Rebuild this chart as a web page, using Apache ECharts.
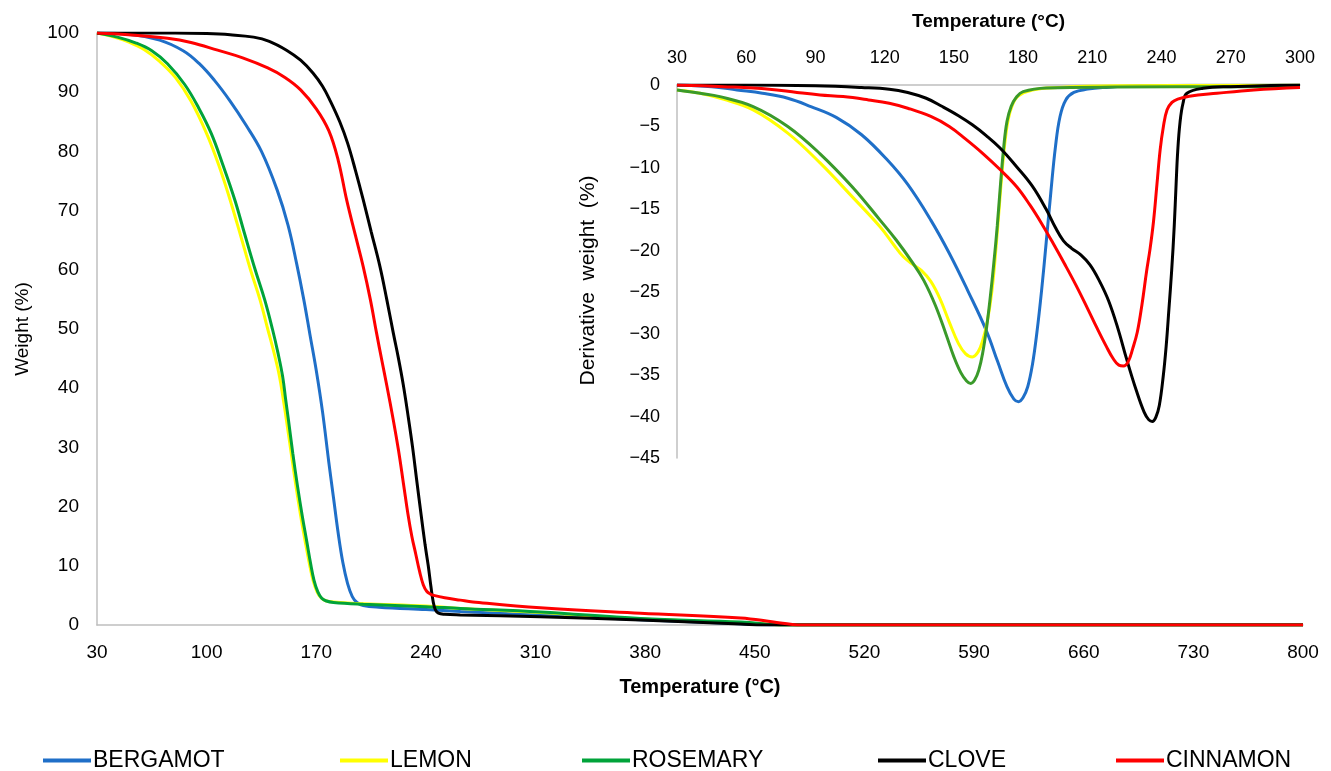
<!DOCTYPE html>
<html>
<head>
<meta charset="utf-8">
<script src="https://cdn.jsdelivr.net/npm/echarts@6/dist/echarts.min.js"></script>
<style>
html,body{margin:0;padding:0;background:#fff;}
#chart{width:1331px;height:771px;}
</style>
</head>
<body>
<div id="chart"></div>
<script>
// ---------- DATA ----------
const seriesNames = ["BERGAMOT", "LEMON", "ROSEMARY", "CLOVE", "CINNAMON"];
const seriesColors = ["#1f6fc8", "#ffff00", "#00a33a", "#000000", "#ff0000"];
const insetColors = ["#1f6fc8", "#ffff00", "#3a9a2a", "#000000", "#ff0000"];

// Main TGA: [temperature °C, weight %]
const tgaBergamot = [[30,100],[50,99.8],[70,98.8],[85,97],[95,94.9],[105,92],[115,88.5],[125,84.5],[135,80],[145,73.5],[152,67.5],[157.5,61],[162,55],[166,49],[170,43],[174,36],[178,27.5],[181,21.5],[184,15.5],[187,10.5],[190,7],[193,4.8],[196,3.8],[200,3.3],[210,3.0],[240,2.6],[262,2.3],[313,1.7],[377,0.9],[441,0.2],[460,0],[800,0]];
const tgaLemon = [[30,100],[40,99.4],[50,98.5],[60,97.2],[70,95.2],[80,92.5],[90,88.5],[100,83],[108,77.5],[115,71.8],[122,65.5],[128,60],[134,55],[139,50],[143,46],[146.5,42],[149,38],[151,34.5],[154,29],[157,23.5],[160,18.5],[163,14],[165.5,10.5],[168,7.5],[170.5,5.6],[173,4.6],[176,4.1],[181,3.9],[200,3.6],[240,3.2],[262,2.8],[313,2.1],[377,1.0],[441,0.4],[470,0],[800,0]];
const tgaRosemary = [[30,100],[43,99.3],[55,98.3],[65,97],[75,94.8],[86,91.3],[95,87.3],[103,83],[110,78],[118,71.8],[124,66.3],[131,60],[137,55],[142,50],[145.5,46],[148.5,42],[150.5,38],[152.3,34.5],[155,29],[158,23.5],[161,18.5],[164,14],[166.3,10.5],[168.6,7.5],[171,5.6],[173.5,4.5],[176,4.1],[181,3.8],[200,3.5],[240,3.1],[262,2.8],[313,2.2],[377,1.1],[441,0.5],[470,0],[800,0]];
const tgaClove = [[30,100],[80,100],[100,99.9],[115,99.7],[130,99.3],[140,98.6],[151,97.1],[160,95.4],[168,93.2],[174,91],[179,88.5],[185,85],[190,81.4],[195,76.8],[200,71.8],[205,66.5],[210.7,60.5],[215,55],[219.2,49.3],[222.5,45],[225.6,40.5],[228.8,35],[231.5,30],[234.1,24.5],[237,18.5],[239.5,13.5],[241.5,10],[243.2,6.5],[244.6,4],[246,2.6],[248,2.0],[252,1.8],[262,1.7],[313,1.4],[377,0.85],[441,0.17],[455,0],[800,0]];
const tgaCinnamon = [[30,100],[50,99.7],[75,99.1],[90,98.4],[107,97.1],[123,95.8],[139,94.1],[150,92.5],[160,90.4],[170,87.2],[178,83.5],[184,78.5],[189.4,71.8],[195,65.8],[200,60.5],[204.5,55],[208.5,49.3],[212,44.5],[215,40.5],[219.2,34.6],[222.5,29.5],[225.6,24],[228.5,18.8],[231,15],[233.5,12],[236,9],[238.3,6.8],[240.5,5.7],[243,5.2],[245,5.0],[252,4.6],[262,4.2],[270,3.9],[313,2.9],[377,2.0],[441,1.2],[462,0.5],[474,0.1],[480,0],[800,0]];

// Inset DTG: [temperature °C, derivative weight %]
const dtgBergamot = [[30,0],[45,-0.2],[56,-0.6],[67,-1.0],[78,-1.6],[88,-2.6],[99,-3.9],[110,-6.0],[121,-9.0],[130,-12],[140,-16.3],[148,-20.3],[156,-24.8],[164,-29.6],[169,-33.4],[173,-36.4],[176,-37.9],[178,-38.2],[180,-37.7],[182,-36.4],[184,-33.8],[186,-29.8],[188,-24.8],[190,-19],[192,-13],[194,-7.5],[196,-3.8],[198.5,-1.8],[202,-0.9],[208,-0.5],[215,-0.3],[230,-0.1],[300,0]];
const dtgLemon = [[30,-0.6],[40,-1.0],[50,-1.7],[63,-3.0],[78,-5.8],[92,-9.4],[106,-13.5],[118,-17.1],[124,-19.3],[128,-20.7],[132,-21.6],[136,-22.4],[140,-23.7],[144,-25.8],[148,-28.6],[152,-31.2],[155,-32.4],[158,-32.8],[160.5,-32.2],[162.5,-30.8],[164.5,-28.5],[166.5,-24.8],[168.3,-19.5],[170,-13.5],[171.7,-8],[173.5,-4.2],[175.5,-2.3],[178,-1.3],[184,-0.6],[195,-0.3],[220,-0.1],[300,0]];
const dtgRosemary = [[30,-0.6],[40,-1.0],[48.6,-1.4],[63,-2.6],[78,-5.0],[92,-8.3],[106,-12.3],[118,-16.3],[125,-18.7],[132,-21.4],[137,-23.6],[142,-26.6],[146.5,-30],[150,-32.8],[153,-34.7],[155.5,-35.7],[157.3,-36.0],[159,-35.6],[160.8,-34.4],[162.5,-32.3],[164.2,-29.2],[165.8,-25.5],[167.3,-21.5],[168.8,-17],[170.2,-12],[171.6,-7.5],[173,-4.4],[174.8,-2.6],[177,-1.5],[180,-0.8],[190,-0.35],[220,-0.25],[300,-0.2]];
const dtgClove = [[30,0],[60,0],[90,-0.1],[110,-0.3],[122,-0.5],[130,-0.9],[138,-1.6],[145,-2.6],[152,-3.7],[158,-4.8],[164,-6.1],[170,-7.6],[177,-9.8],[184,-12.2],[190,-15],[194,-17.2],[197.5,-18.8],[201,-19.7],[205,-20.5],[209,-21.7],[213,-23.6],[217,-26],[221,-29.3],[225,-33.2],[229,-36.8],[232.5,-39.5],[234.5,-40.4],[236,-40.6],[237.5,-40.1],[239,-38.7],[240.7,-35.2],[242,-31.5],[243.2,-27],[244.4,-22.3],[245.5,-17],[246.3,-12],[247,-8],[248,-4.5],[249.3,-2.2],[251,-1.0],[258,-0.4],[270,-0.2],[300,0]];
const dtgCinnamon = [[30,0],[50,-0.2],[70,-0.5],[82,-0.9],[92,-1.2],[102,-1.4],[113,-1.8],[122,-2.2],[130,-2.8],[140,-3.8],[148,-5.0],[155,-6.5],[162.7,-8.3],[170,-10.2],[177.3,-12.3],[183,-14.5],[188,-16.7],[193,-19.1],[198,-21.6],[203,-24.2],[208,-27],[212,-29.3],[216,-31.5],[219,-33],[221.5,-33.8],[223.5,-33.9],[225.5,-33.4],[227.5,-31.8],[229.5,-29.8],[231.5,-26.5],[233.5,-22.5],[235,-19.8],[236.5,-16.5],[238,-12],[239.4,-7.8],[240.8,-5],[242.4,-3.0],[244.5,-2.1],[247,-1.7],[252,-1.35],[264,-1.0],[280,-0.6],[300,-0.3]];

const tgaData = [tgaBergamot, tgaLemon, tgaRosemary, tgaClove, tgaCinnamon];
const dtgData = [dtgBergamot, dtgLemon, dtgRosemary, dtgClove, dtgCinnamon];

// Axis titles
const mainXTitle = "Temperature (°C)";
const mainYTitle = "Weight (%)";
const insetXTitle = "Temperature (°C)";
const insetYTitle = "Derivative  weight  (%)";

// ---------- CHART ----------
const FONT = "Liberation Sans, Arial, sans-serif";
const chart = echarts.init(document.getElementById('chart'), null, {renderer: 'canvas'});

const axisLineGray = {show: true, lineStyle: {color: '#bfbfbf', width: 1.5}};

const series = [];
seriesNames.forEach((n, i) => {
  series.push({
    name: n, type: 'line', xAxisIndex: 0, yAxisIndex: 0,
    data: tgaData[i], showSymbol: false, symbol: 'none',
    smooth: 0.4,
    itemStyle: {color: seriesColors[i]},
    lineStyle: {color: seriesColors[i], width: 3},
    z: 2 + i
  });
});
seriesNames.forEach((n, i) => {
  series.push({
    name: n, type: 'line', xAxisIndex: 1, yAxisIndex: 1,
    data: dtgData[i], showSymbol: false, symbol: 'none',
    smooth: 0.4,
    itemStyle: {color: seriesColors[i]},
    lineStyle: {color: insetColors[i], width: 3},
    z: 2 + i
  });
});

const legendLefts = [38, 335, 577, 873, 1111];
const legends = seriesNames.map((n, i) => ({
  data: [n], left: legendLefts[i], top: 744, orient: 'horizontal',
  icon: 'rect', itemWidth: 48, itemHeight: 4, itemGap: 6,
  textStyle: {fontFamily: FONT, fontSize: 23, color: '#000', padding: [0,0,0,-3]},
  selectedMode: false
}));

const option = {
  backgroundColor: '#ffffff',
  animation: false,
  legend: legends,
  grid: [
    {left: 97, right: 28, top: 33, bottom: 146, containLabel: false, outerBoundsMode: 'none'},
    {left: 677, right: 31, top: 85, bottom: 313, containLabel: false, outerBoundsMode: 'none'}
  ],
  xAxis: [
    {
      gridIndex: 0, type: 'value', min: 30, max: 800, interval: 70,
      axisLine: axisLineGray, axisTick: {show: false}, splitLine: {show: false},
      axisLabel: {fontFamily: FONT, fontSize: 19, color: '#000', margin: 18},
      name: mainXTitle, nameLocation: 'middle', nameGap: 52,
      nameTextStyle: {fontFamily: FONT, fontSize: 20, fontWeight: 'bold', color: '#000'}
    },
    {
      gridIndex: 1, type: 'value', position: 'top', min: 30, max: 300, interval: 30,
      axisLine: axisLineGray, axisTick: {show: false}, splitLine: {show: false},
      axisLabel: {fontFamily: FONT, fontSize: 18, color: '#000', margin: 18},
      name: insetXTitle, nameLocation: 'middle', nameGap: 54,
      nameTextStyle: {fontFamily: FONT, fontSize: 19, fontWeight: 'bold', color: '#000'}
    }
  ],
  yAxis: [
    {
      gridIndex: 0, type: 'value', min: 0, max: 100, interval: 10,
      axisLine: axisLineGray, axisTick: {show: false}, splitLine: {show: false},
      axisLabel: {fontFamily: FONT, fontSize: 19, color: '#000', margin: 18},
      name: mainYTitle, nameLocation: 'middle', nameGap: 65, nameRotate: 90,
      nameTextStyle: {fontFamily: FONT, fontSize: 19, color: '#000'}
    },
    {
      gridIndex: 1, type: 'value', min: -45, max: 0, interval: 5,
      axisLine: axisLineGray, axisTick: {show: false}, splitLine: {show: false},
      axisLabel: {fontFamily: FONT, fontSize: 18, color: '#000', margin: 17,
        formatter: v => String(v).replace('-', '\u2212')},
      name: insetYTitle, nameLocation: 'middle', nameGap: 78, nameRotate: 90,
      nameTextStyle: {fontFamily: FONT, fontSize: 21, color: '#000', padding: [0, 18, 0, 0]}
    }
  ],
  series: series
};
chart.setOption(option);
</script>
</body>
</html>
